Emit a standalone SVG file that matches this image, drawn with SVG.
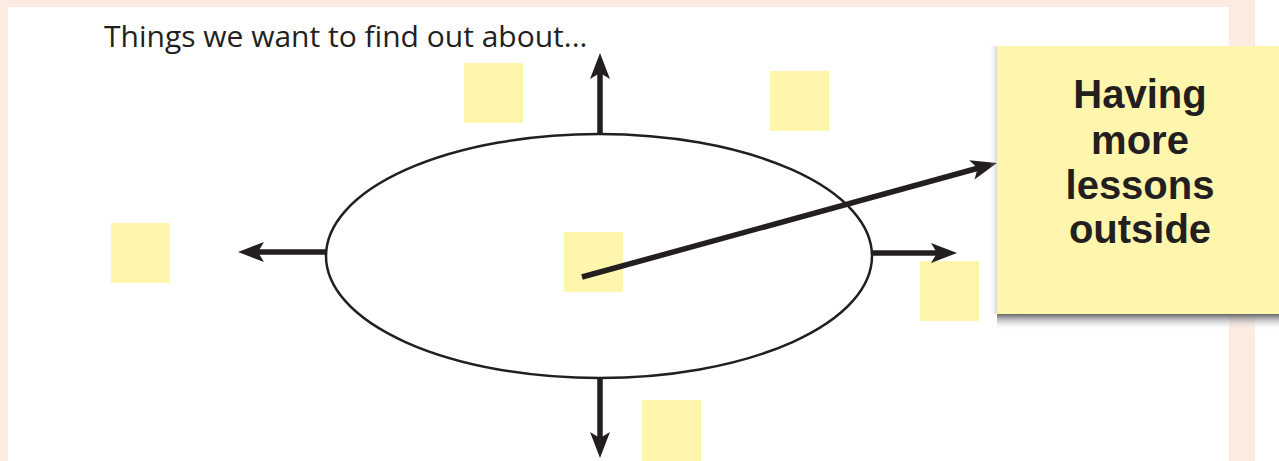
<svg xmlns="http://www.w3.org/2000/svg" width="1279" height="461" viewBox="0 0 1279 461">
<style>
.sq{fill:#fff6ae}
.ln{stroke:#231f20;stroke-width:5.5;fill:none}
.big{font-family:"Liberation Sans",Arial,sans-serif;font-weight:bold;font-size:40px;fill:#231f20;text-anchor:middle}
.t{font-family:"Open Sans","Noto Sans",sans-serif;font-size:30px;fill:#231f20}
</style>
<defs>
<marker id="ah" markerWidth="26" markerHeight="20" refX="7" refY="10" orient="auto" markerUnits="userSpaceOnUse" overflow="visible">
<path d="M0,0 L26,10 L0,20 L6,10 Z" fill="#231f20"/>
</marker>
<linearGradient id="sh" x1="0" y1="0" x2="0" y2="1">
<stop offset="0" stop-color="#55555a" stop-opacity="0.9"/>
<stop offset="1" stop-color="#ffffff" stop-opacity="0"/>
</linearGradient>
<linearGradient id="shl" x1="1" y1="0" x2="0" y2="0">
<stop offset="0" stop-color="#888" stop-opacity="0.35"/>
<stop offset="1" stop-color="#fff" stop-opacity="0"/>
</linearGradient>
</defs>
<rect x="0" y="0" width="1279" height="461" fill="#fcebe0"/>
<rect x="8" y="7" width="1221" height="454" fill="#ffffff"/>
<rect x="1255" y="0" width="24" height="461" fill="#ffffff"/>
<g id="title"><text class="t" x="104" y="47">Things we want to find out about...</text></g>
<g id="squares">
<rect id="sq1" class="sq" x="464" y="63" width="59" height="60"/>
<rect id="sq2" class="sq" x="770" y="71" width="59" height="60"/>
<rect id="sq3" class="sq" x="111" y="223" width="59" height="60"/>
<rect id="sq4" class="sq" x="564" y="232" width="59" height="60"/>
<rect id="sq5" class="sq" x="920" y="261" width="59" height="60"/>
<rect id="sq6" class="sq" x="642" y="400" width="59" height="61"/>
</g>
<g id="ellipse"><ellipse cx="599" cy="256" rx="273" ry="122" fill="none" stroke="#231f20" stroke-width="2.5"/></g>
<g id="connectors">
<line class="ln" x1="600" y1="133" x2="600" y2="72" marker-end="url(#ah)"/>
<line class="ln" x1="326" y1="252" x2="257" y2="252" marker-end="url(#ah)"/>
<line class="ln" x1="872" y1="253" x2="938" y2="253" marker-end="url(#ah)"/>
<line class="ln" x1="600" y1="378" x2="600" y2="439" marker-end="url(#ah)"/>
<line class="ln" x1="582" y1="277" x2="978.6" y2="168" marker-end="url(#ah)"/>
</g>
<g id="note">
<rect x="997" y="314" width="282" height="16" fill="url(#sh)"/>
<rect x="989" y="46" width="8" height="268" fill="url(#shl)"/>
<rect x="997" y="46" width="282" height="268" fill="#fff6ae"/>
<text class="big" x="1140" y="108">Having</text>
<text class="big" x="1140" y="154">more</text>
<text class="big" x="1140" y="199">lessons</text>
<text class="big" x="1140" y="243">outside</text>
</g>
</svg>
